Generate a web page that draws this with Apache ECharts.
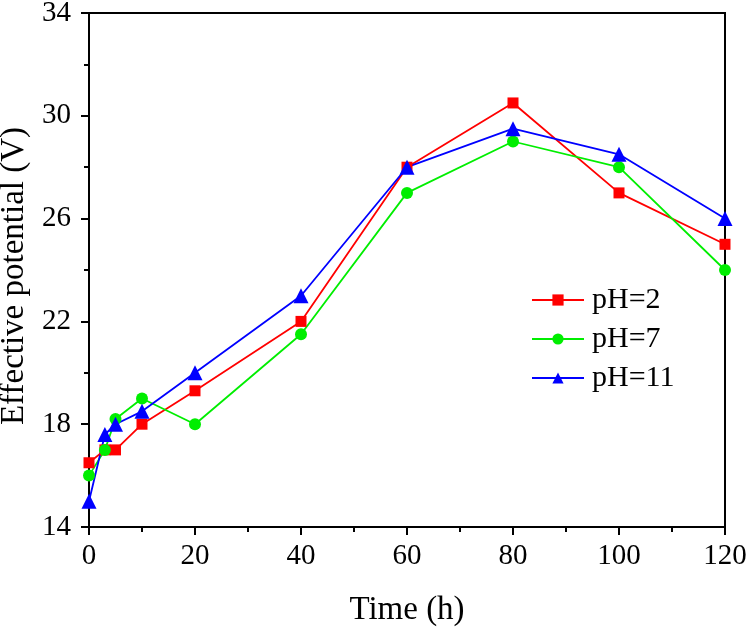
<!DOCTYPE html>
<html><head><meta charset="utf-8">
<script src="https://cdn.jsdelivr.net/npm/echarts@6/dist/echarts.min.js"></script>
<style>html,body{margin:0;padding:0;background:#fff}#c{width:750px;height:630px}</style>
</head><body><div id="c"></div>
<script>
const times = [0, 3, 5, 10, 20, 40, 60, 80, 100, 120];
const ph2 = [16.5, 17, 17, 18, 19.3, 22, 28, 30.5, 27, 25];
const ph7 = [16, 17, 18.2, 19, 18, 21.5, 27, 29, 28, 24];
const ph11 = [15, 17.6, 18, 18.5, 20, 23, 28, 29.5, 28.5, 26];
const seriesNames = ['pH=2', 'pH=7', 'pH=11'];
const xTicks = {min: 0, max: 120, interval: 20};
const yTicks = {min: 14, max: 34, interval: 4};

const font = 'Liberation Serif';
function pairs(v){ return times.map((t,i)=>[t, v[i]]); }
const chart = echarts.init(document.getElementById('c'), null, {renderer:'canvas'});
const mk = (name, data, color, symbol, size) => ({
  name, type:'line', data: pairs(data), symbol, symbolSize: size,
  lineStyle:{color, width:1.8}, itemStyle:{color}, z: 3
});
chart.setOption({
  animation:false,
  backgroundColor:'#fff',
  grid:{left:89, right:25, top:13, bottom:103, outerBoundsMode:'none', containLabel:false,
        show:true, borderColor:'#000', borderWidth:2, backgroundColor:'transparent'},
  legend:{
    orient:'vertical', left:531, top:285, padding:0, itemWidth:52, itemHeight:14, itemGap:9,
    textStyle:{fontFamily:font, fontSize:30, color:'#000', padding:[0,0,0,3]},
    data: seriesNames
  },
  xAxis:{
    type:'value', min:xTicks.min, max:xTicks.max, interval:xTicks.interval,
    name:'Time (h)', nameLocation:'middle', nameGap:67,
    nameTextStyle:{fontFamily:font, fontSize:33, color:'#000'},
    axisLine:{lineStyle:{color:'#000', width:2}},
    axisTick:{inside:false, length:8, lineStyle:{color:'#000', width:2}},
    minorTick:{show:true, splitNumber:2, length:5, lineStyle:{color:'#000', width:2}},
    axisLabel:{fontFamily:font, fontSize:29, color:'#000', margin:15},
    splitLine:{show:false}
  },
  yAxis:{
    type:'value', min:yTicks.min, max:yTicks.max, interval:yTicks.interval,
    name:'Effective potential (V)', nameLocation:'middle', nameGap:58,
    nameTextStyle:{fontFamily:font, fontSize:33, color:'#000', padding:[0,12,0,0]},
    axisLine:{lineStyle:{color:'#000', width:2}},
    axisTick:{inside:false, length:8, lineStyle:{color:'#000', width:2}},
    minorTick:{show:true, splitNumber:2, length:5, lineStyle:{color:'#000', width:2}},
    axisLabel:{fontFamily:font, fontSize:29, color:'#000', margin:18},
    splitLine:{show:false}
  },
  series:[
    mk(seriesNames[0], ph2, '#ff0000', 'rect', 11),
    mk(seriesNames[1], ph7, '#00ee00', 'circle', 12),
    mk(seriesNames[2], ph11, '#0000ff', 'triangle', 15)
  ]
});
</script></body></html>
